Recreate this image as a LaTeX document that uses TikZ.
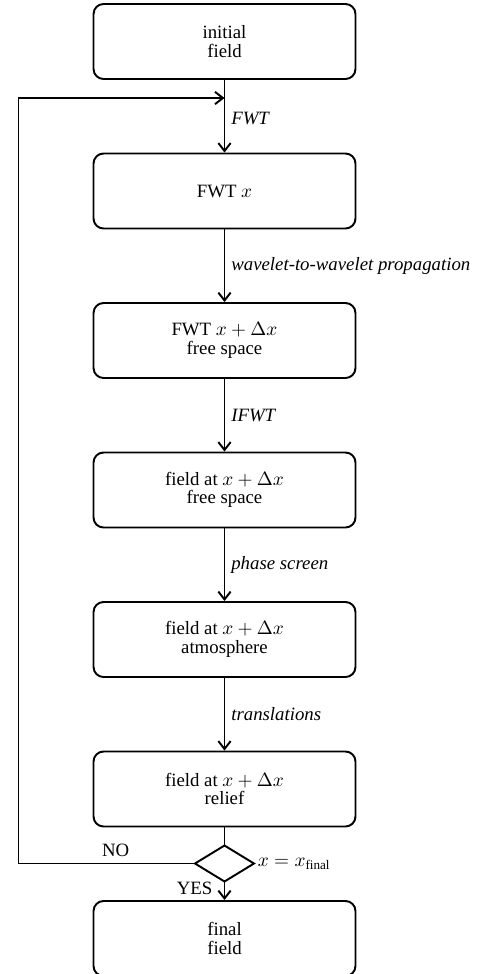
\documentclass[tikz,border=0pt]{standalone}
\usepackage{fontspec}
\setmainfont{Liberation Serif}
\usetikzlibrary{shapes.geometric,arrows.meta}
\begin{document}
\begin{tikzpicture}[x=0.02cm,y=-0.02cm,
  every node/.style={font=\fontsize{10.7}{10.6}\selectfont},
  stepbox/.style={draw, line width=1.1pt, rounded corners=5.7pt, minimum width=5.24cm, minimum height=1.5cm, align=center, inner sep=0pt},
  decision/.style={draw, line width=1.1pt, diamond, minimum width=1.18cm, minimum height=0.72cm, inner sep=0pt, outer sep=0pt},
  flow/.style={line width=1.1pt,-{Straight Barb[length=4.5pt,width=7pt,line width=1.1pt]}},
  plain/.style={line width=1.1pt},
  lbl/.style={font=\fontsize{10.7}{10.6}\selectfont\itshape}]
\useasboundingbox (0,0) rectangle (490,974);
\node[stepbox] (b1) at (224.5,41.5) {initial\\field};
\node[stepbox] (b2) at (224.5,191) {FWT $x$};
\node[stepbox] (b3) at (224.5,340.5) {FWT $x+\Delta x$\\free space};
\node[stepbox] (b4) at (224.5,490) {field at $x+\Delta x$\\free space};
\node[stepbox] (b5) at (224.5,639.5) {field at $x+\Delta x$\\atmosphere};
\node[stepbox] (b6) at (224.5,789) {field at $x+\Delta x$\\relief};
\node[decision] (dia) at (224.5,863.5) {};
\node[stepbox] (b7) at (224.5,938.5) {final\\field};
\node[right, inner sep=2pt] (cond) at (dia.east) {$x=x_{\mathrm{final}}$};
\coordinate (lb) at (18.5,863.5);
\coordinate (lt) at (18.5,98);
\coordinate (lj) at (224.5,98);
\draw[flow] (b1) -- node[lbl, right, pos=0.53] {FWT} (b2);
\draw[flow] (b2) -- node[lbl, right] {wavelet-to-wavelet propagation} (b3);
\draw[flow] (b3) -- node[lbl, right] {IFWT} (b4);
\draw[flow] (b4) -- node[lbl, right] {phase screen} (b5);
\draw[flow] (b5) -- node[lbl, right] {translations} (b6);
\draw[plain] (b6) -- (dia);
\draw[flow] (dia) -- node[left, pos=0.35, xshift=-3pt] {YES} (b7);
\draw[flow] (dia.west) -- node[above, pos=0.45] {NO} (lb) -- (lt) -- (lj);
\end{tikzpicture}
\end{document}
